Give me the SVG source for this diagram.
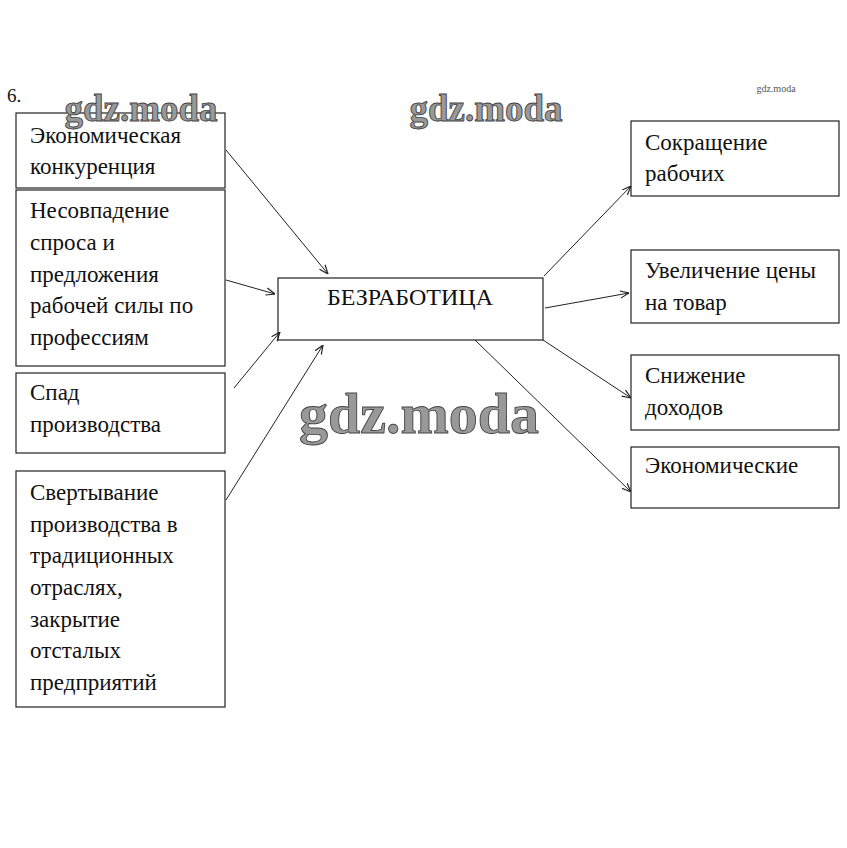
<svg xmlns="http://www.w3.org/2000/svg" width="847" height="848" viewBox="0 0 847 848">
<style>
.box{fill:#fff;stroke:#222;stroke-width:1.2}
.t{font-family:'Liberation Serif','Times New Roman',serif;font-size:23px;fill:#111}
.wm{font-family:'Liberation Serif',serif;font-weight:bold;fill:#999;stroke:#444;stroke-width:0.9}
.c{stroke:#222;stroke-width:1;fill:none;marker-end:url(#ah)}
</style>
<defs>
<marker id="ah" viewBox="0 0 10 10" refX="10" refY="5" markerWidth="9" markerHeight="9" markerUnits="userSpaceOnUse" orient="auto">
<path d="M0,1 L10,5 L0,9" fill="none" stroke="#222" stroke-width="1.3"/>
</marker>
</defs>
<rect width="847" height="848" fill="#fff"/>
<text class="t" x="7" y="102" style="font-size:19px">6.</text>
<g id="left1"><rect class="box" x="16" y="113" width="209" height="75"/><text class="t" x="30" y="143">Экономическая</text><text class="t" x="30" y="174">конкуренция</text></g>
<g id="left2"><rect class="box" x="16" y="190" width="209" height="176"/><text class="t" x="30" y="218">Несовпадение</text><text class="t" x="30" y="250">спроса и</text><text class="t" x="30" y="282">предложения</text><text class="t" x="30" y="313">рабочей силы по</text><text class="t" x="30" y="345">профессиям</text></g>
<g id="left3"><rect class="box" x="16" y="373" width="209" height="80"/><text class="t" x="30" y="400">Спад</text><text class="t" x="30" y="432">производства</text></g>
<g id="left4"><rect class="box" x="16" y="471" width="209" height="236"/><text class="t" x="30" y="500">Свертывание</text><text class="t" x="30" y="532">производства в</text><text class="t" x="30" y="563">традиционных</text><text class="t" x="30" y="595">отраслях,</text><text class="t" x="30" y="627">закрытие</text><text class="t" x="30" y="658">отсталых</text><text class="t" x="30" y="690">предприятий</text></g>
<g id="center"><rect class="box" x="278" y="278" width="265" height="62"/><text class="t" x="410" y="305" text-anchor="middle" style="font-size:24px">БЕЗРАБОТИЦА</text></g>
<g id="right1"><rect class="box" x="631" y="121" width="208" height="75"/><text class="t" x="645" y="150">Сокращение</text><text class="t" x="645" y="181">рабочих</text></g>
<g id="right2"><rect class="box" x="631" y="250" width="208" height="73"/><text class="t" x="645" y="278">Увеличение цены</text><text class="t" x="645" y="310">на товар</text></g>
<g id="right3"><rect class="box" x="631" y="355" width="208" height="75"/><text class="t" x="645" y="383">Снижение</text><text class="t" x="645" y="415">доходов</text></g>
<g id="right4"><rect class="box" x="631" y="447" width="208" height="61"/><text class="t" x="645" y="473">Экономические</text></g>
<g id="connectors">
<line class="c" x1="226" y1="150" x2="328" y2="274"/>
<line class="c" x1="226" y1="280" x2="275" y2="294"/>
<line class="c" x1="234" y1="388" x2="280" y2="332"/>
<line class="c" x1="226" y1="500" x2="323" y2="345"/>
<line class="c" x1="544" y1="276" x2="631" y2="186"/>
<line class="c" x1="545" y1="308" x2="629" y2="293"/>
<line class="c" x1="543" y1="340" x2="631" y2="398"/>
<line class="c" x1="475" y1="340" x2="631" y2="492"/>
</g>
<g id="watermarks">
<text class="wm" x="141" y="121" style="font-size:37px" text-anchor="middle">gdz.moda</text>
<text class="wm" x="486" y="121" style="font-size:37px" text-anchor="middle">gdz.moda</text>
<text x="776" y="92" font-family="Liberation Serif,serif" font-size="10" fill="#555" text-anchor="middle">gdz.moda</text>
<text class="wm" x="419" y="433" style="font-size:58px" text-anchor="middle">gdz.moda</text>
</g>
</svg>
